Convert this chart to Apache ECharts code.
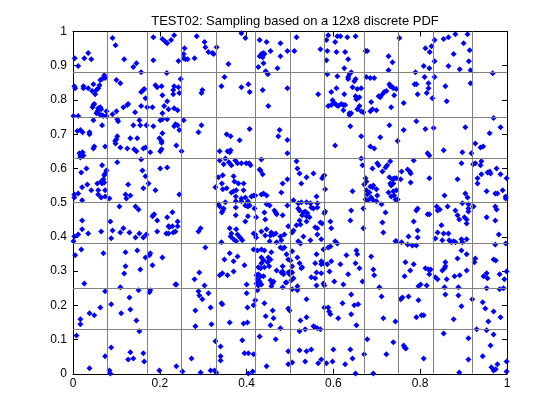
<!DOCTYPE html>
<html>
<head>
<meta charset="utf-8">
<script src="https://cdn.jsdelivr.net/npm/echarts@6/dist/echarts.min.js"></script>
<style>
html,body{margin:0;padding:0;background:#fff;}
#chart{width:560px;height:420px;}
</style>
</head>
<body>
<div id="chart"></div>
<script>
// Title and tick labels
var titleText = 'TEST02: Sampling based on a 12x8 discrete PDF';
var xTicks = [0, 0.2, 0.4, 0.6, 0.8, 1];
var yTicks = [0, 0.1, 0.2, 0.3, 0.4, 0.5, 0.6, 0.7, 0.8, 0.9, 1];
// PDF cell boundaries (12 x 8 cells)
var cellEdgesX = [1/12, 2/12, 3/12, 4/12, 5/12, 6/12, 7/12, 8/12, 9/12, 10/12, 11/12];
var cellEdgesY = [1/8, 2/8, 3/8, 4/8, 5/8, 6/8, 7/8];

// Sample points [x, y], grouped by region of the plot
var samplesTopLeft = [[0.091,0.981],[0.098,0.960],[0.185,0.983],[0.206,0.978],[0.213,0.970],[0.217,0.966],[0.226,0.975],[0.233,0.989],[0.004,0.922],[0.026,0.922],[0.035,0.937],[0.042,0.919],[0.012,0.899],[0.118,0.919],[0.139,0.896],[0.146,0.907],[0.157,0.881],[0.185,0.916],[0.216,0.879],[0.072,0.872],[0.067,0.861],[0.074,0.864],[0.063,0.858],[0.100,0.858],[0.109,0.849],[0.047,0.846],[0.061,0.843],[0.058,0.834],[0.054,0.829],[0.044,0.826],[0.051,0.817],[0.035,0.834],[0.024,0.840],[0.024,0.834],[0.003,0.840],[0.005,0.834],[0.157,0.823],[0.162,0.829],[0.164,0.832],[0.167,0.805],[0.157,0.782],[0.190,0.843],[0.194,0.837],[0.204,0.840],[0.206,0.814],[0.217,0.796],[0.210,0.782],[0.233,0.840],[0.231,0.829],[0.231,0.817],[0.220,0.773],[0.233,0.776],[0.047,0.785],[0.049,0.788],[0.045,0.779],[0.058,0.776],[0.063,0.779],[0.065,0.773],[0.056,0.767],[0.054,0.761],[0.061,0.758],[0.067,0.755],[0.070,0.753],[0.077,0.767],[0.077,0.753],[0.091,0.758],[0.100,0.767],[0.116,0.779],[0.125,0.785],[0.127,0.788],[0.143,0.764],[0.171,0.779],[0.183,0.779],[0.001,0.753],[0.012,0.753],[0.047,0.741],[0.067,0.726],[0.102,0.744],[0.104,0.738],[0.153,0.741],[0.155,0.726],[0.139,0.726],[0.169,0.726],[0.185,0.723],[0.206,0.761],[0.206,0.744],[0.217,0.744],[0.201,0.741],[0.236,0.729],[0.233,0.723],[0.010,0.709],[0.017,0.712],[0.022,0.706],[0.038,0.706],[0.038,0.700],[0.206,0.703],[0.102,0.694],[0.100,0.685],[0.097,0.680],[0.132,0.688],[0.148,0.688],[0.199,0.688],[0.204,0.680]];

var samplesTopMidLeft = [[0.243,0.914],[0.285,0.986],[0.303,0.969],[0.305,0.954],[0.312,0.940],[0.321,0.937],[0.324,0.934],[0.331,0.954],[0.257,0.951],[0.255,0.934],[0.255,0.922],[0.259,0.919],[0.264,0.919],[0.280,0.922],[0.388,0.995],[0.397,0.981],[0.358,0.905],[0.430,0.975],[0.446,0.969],[0.478,0.966],[0.455,0.943],[0.430,0.928],[0.434,0.934],[0.439,0.937],[0.441,0.934],[0.437,0.925],[0.478,0.928],[0.439,0.907],[0.427,0.896],[0.444,0.884],[0.449,0.875],[0.471,0.893],[0.349,0.867],[0.342,0.840],[0.388,0.837],[0.404,0.846],[0.407,0.823],[0.248,0.861],[0.243,0.837],[0.245,0.820],[0.298,0.829],[0.296,0.820],[0.437,0.829],[0.450,0.782],[0.241,0.770],[0.255,0.741],[0.241,0.726],[0.245,0.712],[0.296,0.726],[0.289,0.706],[0.354,0.700],[0.363,0.694],[0.384,0.682],[0.407,0.715],[0.476,0.712],[0.473,0.694]];

var samplesTopMidRight = [[0.515,0.983],[0.494,0.943],[0.510,0.943],[0.570,0.948],[0.588,0.989],[0.609,0.986],[0.616,0.986],[0.632,0.983],[0.651,0.986],[0.584,0.975],[0.604,0.969],[0.586,0.943],[0.607,0.940],[0.627,0.940],[0.584,0.916],[0.634,0.919],[0.625,0.893],[0.641,0.881],[0.637,0.875],[0.634,0.867],[0.634,0.861],[0.651,0.861],[0.648,0.855],[0.609,0.869],[0.586,0.875],[0.674,0.943],[0.678,0.943],[0.727,0.928],[0.736,0.910],[0.727,0.887],[0.676,0.867],[0.685,0.864],[0.694,0.864],[0.494,0.834],[0.565,0.817],[0.595,0.823],[0.607,0.834],[0.625,0.817],[0.644,0.837],[0.655,0.832],[0.664,0.834],[0.651,0.811],[0.655,0.805],[0.660,0.808],[0.653,0.802],[0.598,0.799],[0.602,0.791],[0.607,0.785],[0.611,0.782],[0.588,0.782],[0.595,0.785],[0.618,0.788],[0.623,0.785],[0.627,0.785],[0.623,0.770],[0.637,0.761],[0.637,0.756],[0.641,0.761],[0.655,0.773],[0.660,0.782],[0.664,0.767],[0.669,0.764],[0.687,0.794],[0.685,0.767],[0.690,0.773],[0.699,0.770],[0.704,0.811],[0.708,0.808],[0.713,0.817],[0.717,0.823],[0.722,0.826],[0.729,0.846],[0.731,0.840],[0.736,0.837],[0.738,0.834],[0.740,0.814],[0.733,0.779],[0.639,0.723],[0.664,0.694],[0.708,0.691],[0.729,0.726],[0.494,0.683]];

var samplesTopRight = [[0.752,0.981],[0.833,0.975],[0.854,0.978],[0.865,0.983],[0.881,0.992],[0.909,0.992],[0.812,0.951],[0.826,0.957],[0.822,0.940],[0.900,0.966],[0.914,0.945],[0.877,0.934],[0.833,0.913],[0.912,0.913],[0.808,0.899],[0.821,0.893],[0.865,0.899],[0.891,0.890],[0.916,0.887],[0.789,0.881],[0.967,0.878],[0.810,0.867],[0.833,0.867],[0.787,0.846],[0.791,0.846],[0.819,0.849],[0.819,0.834],[0.858,0.840],[0.916,0.849],[0.745,0.832],[0.794,0.817],[0.815,0.820],[0.828,0.805],[0.861,0.796],[0.762,0.791],[0.969,0.747],[0.791,0.738],[0.985,0.720],[0.762,0.712],[0.812,0.715],[0.831,0.718],[0.904,0.720],[0.960,0.703],[0.748,0.680]];

var samplesMidLeft = [[0.049,0.664],[0.047,0.658],[0.074,0.664],[0.098,0.673],[0.109,0.661],[0.125,0.658],[0.141,0.656],[0.146,0.650],[0.162,0.658],[0.167,0.661],[0.178,0.647],[0.201,0.650],[0.204,0.656],[0.204,0.675],[0.015,0.644],[0.022,0.647],[0.017,0.638],[0.024,0.638],[0.017,0.632],[0.157,0.626],[0.102,0.618],[0.067,0.609],[0.031,0.600],[0.019,0.588],[0.077,0.594],[0.074,0.585],[0.072,0.580],[0.070,0.568],[0.065,0.562],[0.072,0.559],[0.067,0.556],[0.056,0.556],[0.033,0.553],[0.021,0.545],[0.042,0.536],[0.058,0.536],[0.074,0.536],[0.058,0.524],[0.065,0.515],[0.074,0.518],[0.084,0.512],[0.003,0.524],[0.012,0.527],[0.003,0.515],[0.021,0.507],[0.160,0.594],[0.167,0.577],[0.201,0.600],[0.217,0.603],[0.127,0.553],[0.174,0.556],[0.162,0.542],[0.190,0.536],[0.121,0.524],[0.132,0.521],[0.123,0.512],[0.107,0.489],[0.144,0.489],[0.151,0.480],[0.185,0.463],[0.187,0.466],[0.183,0.460],[0.194,0.448],[0.229,0.472],[0.217,0.457],[0.021,0.448],[0.086,0.445],[0.220,0.431],[0.222,0.428],[0.229,0.431],[0.021,0.422],[0.035,0.410],[0.065,0.416],[0.091,0.419],[0.109,0.413],[0.116,0.425],[0.130,0.413],[0.153,0.410],[0.169,0.407],[0.162,0.398],[0.144,0.398],[0.194,0.416],[0.215,0.410],[0.220,0.410],[0.231,0.413],[0.236,0.416],[0.088,0.396],[0.012,0.407],[0.003,0.401],[0.001,0.387],[0.019,0.363],[0.070,0.352],[0.121,0.355],[0.148,0.360],[0.178,0.352],[0.176,0.346],[0.206,0.340],[0.005,0.346],[0.167,0.340]];

var samplesMidMidLeft = [[0.238,0.667],[0.250,0.650],[0.338,0.650],[0.356,0.650],[0.361,0.647],[0.363,0.653],[0.351,0.629],[0.338,0.623],[0.347,0.612],[0.359,0.618],[0.365,0.609],[0.374,0.623],[0.379,0.615],[0.388,0.615],[0.399,0.615],[0.406,0.615],[0.409,0.609],[0.434,0.626],[0.430,0.597],[0.432,0.594],[0.437,0.583],[0.335,0.574],[0.345,0.580],[0.370,0.577],[0.372,0.562],[0.381,0.556],[0.393,0.556],[0.343,0.556],[0.328,0.545],[0.345,0.539],[0.354,0.542],[0.365,0.530],[0.370,0.533],[0.376,0.536],[0.393,0.536],[0.375,0.518],[0.388,0.512],[0.397,0.515],[0.411,0.518],[0.416,0.521],[0.420,0.521],[0.434,0.524],[0.439,0.527],[0.446,0.521],[0.483,0.556],[0.480,0.530],[0.245,0.524],[0.375,0.504],[0.388,0.504],[0.403,0.504],[0.351,0.501],[0.335,0.495],[0.338,0.489],[0.347,0.483],[0.345,0.477],[0.343,0.471],[0.375,0.486],[0.397,0.492],[0.403,0.489],[0.407,0.492],[0.446,0.495],[0.453,0.492],[0.418,0.483],[0.441,0.471],[0.464,0.477],[0.467,0.471],[0.469,0.466],[0.483,0.463],[0.375,0.463],[0.403,0.460],[0.397,0.445],[0.422,0.457],[0.443,0.451],[0.241,0.445],[0.241,0.431],[0.294,0.425],[0.289,0.416],[0.361,0.425],[0.365,0.410],[0.376,0.422],[0.379,0.407],[0.363,0.401],[0.370,0.393],[0.376,0.387],[0.385,0.398],[0.390,0.390],[0.342,0.384],[0.416,0.410],[0.420,0.407],[0.422,0.398],[0.434,0.416],[0.443,0.404],[0.446,0.422],[0.457,0.413],[0.462,0.407],[0.455,0.404],[0.467,0.410],[0.487,0.407],[0.478,0.401],[0.480,0.390],[0.453,0.387],[0.469,0.384],[0.305,0.369],[0.416,0.363],[0.425,0.360],[0.434,0.363],[0.441,0.360],[0.457,0.355],[0.478,0.369],[0.483,0.366],[0.487,0.369],[0.361,0.352],[0.379,0.343],[0.434,0.340],[0.492,0.349],[0.450,0.340]];

var samplesMidMidRight = [[0.494,0.644],[0.604,0.667],[0.685,0.664],[0.694,0.658],[0.515,0.621],[0.517,0.600],[0.522,0.585],[0.538,0.574],[0.554,0.585],[0.526,0.556],[0.574,0.571],[0.577,0.577],[0.579,0.580],[0.494,0.568],[0.581,0.539],[0.561,0.518],[0.664,0.629],[0.667,0.609],[0.690,0.600],[0.701,0.615],[0.704,0.609],[0.713,0.591],[0.720,0.603],[0.724,0.609],[0.731,0.621],[0.674,0.571],[0.676,0.562],[0.671,0.553],[0.685,0.547],[0.690,0.545],[0.692,0.550],[0.699,0.539],[0.676,0.536],[0.678,0.524],[0.683,0.530],[0.674,0.509],[0.680,0.507],[0.687,0.515],[0.692,0.507],[0.699,0.504],[0.701,0.521],[0.644,0.533],[0.729,0.574],[0.731,0.556],[0.733,0.550],[0.738,0.556],[0.740,0.571],[0.736,0.568],[0.727,0.530],[0.738,0.533],[0.740,0.521],[0.733,0.518],[0.743,0.509],[0.508,0.507],[0.494,0.492],[0.519,0.498],[0.526,0.501],[0.538,0.501],[0.547,0.498],[0.563,0.498],[0.549,0.486],[0.554,0.483],[0.563,0.486],[0.519,0.483],[0.522,0.477],[0.531,0.471],[0.535,0.474],[0.540,0.469],[0.538,0.460],[0.545,0.457],[0.528,0.463],[0.522,0.448],[0.538,0.445],[0.524,0.436],[0.515,0.434],[0.508,0.419],[0.505,0.413],[0.496,0.431],[0.531,0.401],[0.519,0.387],[0.524,0.381],[0.547,0.390],[0.563,0.407],[0.572,0.393],[0.558,0.428],[0.563,0.425],[0.570,0.442],[0.574,0.439],[0.581,0.474],[0.579,0.469],[0.593,0.445],[0.595,0.425],[0.641,0.477],[0.639,0.448],[0.669,0.483],[0.669,0.425],[0.720,0.471],[0.713,0.442],[0.715,0.413],[0.711,0.495],[0.743,0.387],[0.604,0.387],[0.609,0.381],[0.577,0.363],[0.588,0.369],[0.593,0.372],[0.505,0.358],[0.517,0.340],[0.561,0.349],[0.630,0.346],[0.653,0.360],[0.655,0.349],[0.687,0.343]];

var samplesMidRight = [[0.927,0.673],[0.939,0.661],[0.945,0.664],[0.854,0.653],[0.817,0.644],[0.821,0.638],[0.897,0.647],[0.918,0.644],[0.785,0.623],[0.895,0.615],[0.922,0.612],[0.927,0.615],[0.941,0.621],[0.939,0.609],[0.976,0.600],[0.757,0.591],[0.771,0.597],[0.776,0.591],[0.778,0.585],[0.745,0.571],[0.755,0.568],[0.821,0.571],[0.778,0.559],[0.886,0.568],[0.932,0.571],[0.932,0.556],[0.941,0.583],[0.955,0.588],[0.960,0.591],[0.962,0.585],[0.985,0.583],[0.999,0.571],[0.745,0.536],[0.748,0.509],[0.856,0.521],[0.904,0.527],[0.909,0.515],[0.953,0.533],[0.973,0.527],[0.978,0.527],[0.990,0.536],[0.997,0.518],[0.997,0.512],[0.791,0.477],[0.794,0.483],[0.817,0.466],[0.821,0.466],[0.838,0.489],[0.840,0.477],[0.845,0.480],[0.863,0.489],[0.897,0.498],[0.911,0.495],[0.911,0.483],[0.911,0.474],[0.923,0.489],[0.881,0.477],[0.886,0.463],[0.890,0.451],[0.902,0.457],[0.907,0.451],[0.907,0.439],[0.973,0.489],[0.976,0.480],[0.953,0.457],[0.973,0.448],[0.785,0.445],[0.849,0.434],[0.794,0.419],[0.840,0.413],[0.854,0.410],[0.865,0.410],[0.773,0.401],[0.794,0.398],[0.835,0.395],[0.851,0.390],[0.867,0.390],[0.877,0.387],[0.881,0.384],[0.872,0.384],[0.895,0.393],[0.907,0.393],[0.897,0.384],[0.981,0.407],[0.745,0.387],[0.757,0.384],[0.771,0.378],[0.782,0.375],[0.791,0.375],[0.895,0.360],[0.907,0.349],[0.973,0.378],[0.997,0.381]];

var samplesBottomLeft = [[0.121,0.314],[0.118,0.293],[0.155,0.305],[0.183,0.317],[0.026,0.264],[0.236,0.261],[0.109,0.253],[0.074,0.241],[0.151,0.244],[0.178,0.244],[0.176,0.238],[0.130,0.223],[0.088,0.203],[0.063,0.194],[0.038,0.177],[0.049,0.171],[0.111,0.177],[0.132,0.188],[0.146,0.156],[0.017,0.159],[0.017,0.145],[0.153,0.124],[0.008,0.112],[0.088,0.077],[0.132,0.063],[0.074,0.051],[0.127,0.042],[0.139,0.045],[0.162,0.060],[0.164,0.036],[0.038,0.016],[0.084,0.010],[0.086,0.001],[0.199,0.010]];

var samplesBottomMidLeft = [[0.349,0.334],[0.370,0.329],[0.395,0.317],[0.427,0.311],[0.434,0.323],[0.439,0.332],[0.448,0.326],[0.455,0.334],[0.432,0.308],[0.441,0.311],[0.452,0.314],[0.483,0.314],[0.469,0.302],[0.480,0.296],[0.485,0.291],[0.483,0.299],[0.291,0.296],[0.280,0.276],[0.303,0.258],[0.338,0.288],[0.344,0.294],[0.356,0.288],[0.370,0.299],[0.423,0.288],[0.427,0.291],[0.432,0.285],[0.439,0.285],[0.425,0.276],[0.430,0.270],[0.423,0.264],[0.427,0.258],[0.434,0.261],[0.425,0.244],[0.455,0.273],[0.462,0.270],[0.459,0.264],[0.457,0.256],[0.490,0.267],[0.483,0.253],[0.400,0.261],[0.238,0.261],[0.289,0.241],[0.291,0.229],[0.298,0.218],[0.312,0.235],[0.400,0.235],[0.342,0.206],[0.344,0.203],[0.402,0.194],[0.420,0.215],[0.416,0.200],[0.441,0.206],[0.460,0.185],[0.282,0.185],[0.317,0.194],[0.444,0.168],[0.462,0.162],[0.361,0.150],[0.393,0.147],[0.402,0.150],[0.455,0.142],[0.478,0.133],[0.282,0.139],[0.319,0.145],[0.430,0.109],[0.467,0.101],[0.390,0.098],[0.328,0.095],[0.340,0.080],[0.273,0.045],[0.340,0.051],[0.340,0.039],[0.395,0.060],[0.404,0.060],[0.416,0.057],[0.446,0.022],[0.238,0.022],[0.252,0.007],[0.294,0.004],[0.317,0.010],[0.326,0.010],[0.330,0.004],[0.404,0.001],[0.414,0.007]];

var samplesBottomMidRight = [[0.496,0.334],[0.501,0.331],[0.522,0.323],[0.505,0.314],[0.496,0.296],[0.499,0.291],[0.505,0.296],[0.501,0.299],[0.508,0.279],[0.503,0.273],[0.492,0.267],[0.526,0.308],[0.528,0.311],[0.558,0.323],[0.572,0.329],[0.572,0.320],[0.577,0.323],[0.586,0.320],[0.595,0.329],[0.616,0.320],[0.651,0.323],[0.660,0.308],[0.692,0.305],[0.694,0.288],[0.561,0.296],[0.572,0.294],[0.591,0.299],[0.634,0.291],[0.549,0.282],[0.558,0.279],[0.602,0.270],[0.623,0.261],[0.667,0.270],[0.577,0.264],[0.579,0.258],[0.561,0.258],[0.517,0.256],[0.505,0.247],[0.517,0.244],[0.706,0.253],[0.641,0.232],[0.711,0.226],[0.538,0.218],[0.621,0.206],[0.648,0.200],[0.657,0.203],[0.579,0.194],[0.588,0.194],[0.590,0.182],[0.593,0.174],[0.496,0.191],[0.499,0.185],[0.641,0.174],[0.611,0.162],[0.538,0.165],[0.524,0.156],[0.715,0.162],[0.743,0.153],[0.653,0.142],[0.554,0.139],[0.558,0.136],[0.563,0.133],[0.570,0.130],[0.535,0.130],[0.522,0.124],[0.678,0.101],[0.738,0.092],[0.496,0.066],[0.522,0.069],[0.538,0.066],[0.549,0.071],[0.600,0.071],[0.639,0.071],[0.671,0.057],[0.722,0.057],[0.644,0.045],[0.572,0.042],[0.505,0.033],[0.496,0.028],[0.535,0.036],[0.565,0.031],[0.584,0.031],[0.598,0.036],[0.627,0.028],[0.651,0.001],[0.692,0.001]];

var samplesBottomRight = [[0.766,0.326],[0.785,0.320],[0.764,0.285],[0.777,0.302],[0.812,0.308],[0.819,0.305],[0.824,0.305],[0.821,0.291],[0.858,0.326],[0.858,0.314],[0.851,0.302],[0.856,0.308],[0.886,0.337],[0.927,0.337],[0.925,0.326],[0.969,0.334],[0.974,0.331],[0.907,0.302],[0.879,0.285],[0.891,0.288],[0.835,0.282],[0.840,0.276],[0.861,0.276],[0.953,0.294],[0.946,0.285],[0.955,0.279],[0.983,0.291],[0.994,0.276],[0.999,0.299],[0.796,0.256],[0.801,0.261],[0.815,0.258],[0.856,0.253],[0.888,0.253],[0.953,0.250],[0.983,0.247],[0.992,0.250],[0.755,0.218],[0.759,0.223],[0.773,0.226],[0.796,0.215],[0.858,0.232],[0.888,0.229],[0.920,0.218],[0.895,0.197],[0.944,0.209],[0.950,0.191],[0.969,0.182],[0.791,0.165],[0.803,0.171],[0.808,0.171],[0.877,0.159],[0.985,0.165],[0.957,0.153],[0.930,0.130],[0.953,0.127],[0.854,0.118],[0.911,0.104],[0.969,0.115],[0.762,0.083],[0.764,0.077],[0.767,0.074],[0.962,0.083],[0.944,0.051],[0.808,0.045],[0.911,0.042],[0.978,0.028],[0.999,0.036],[0.964,0.019],[0.969,0.010],[0.974,0.013],[0.890,0.004],[0.999,0.007]];

var allSamples = [].concat(samplesTopLeft, samplesTopMidLeft, samplesTopMidRight, samplesTopRight,
  samplesMidLeft, samplesMidMidLeft, samplesMidMidRight, samplesMidRight,
  samplesBottomLeft, samplesBottomMidLeft, samplesBottomMidRight, samplesBottomRight);

var font = 'Liberation Sans, Arial, Helvetica, sans-serif';
var chart = echarts.init(document.getElementById('chart'), null, {renderer: 'canvas'});

function axisCommon(extra) {
  var base = {
    min: 0, max: 1,
    axisLine: {show: true, onZero: false, lineStyle: {color: '#000', width: 1}},
    axisTick: {show: true, inside: true, length: 5, lineStyle: {color: '#000', width: 1}},
    splitLine: {show: false},
    axisLabel: {show: false}
  };
  for (var k in extra) base[k] = extra[k];
  return base;
}

var gridMarks = cellEdgesX.map(function (v) { return {xAxis: v}; })
  .concat(cellEdgesY.map(function (v) { return {yAxis: v}; }));

chart.setOption({
  animation: false,
  backgroundColor: '#ffffff',
  title: {
    text: titleText,
    left: 290, top: 10, textAlign: 'center',
    textStyle: {fontFamily: font, fontSize: 13, fontWeight: 'normal', color: '#000'}
  },
  grid: {left: 73, right: 53, top: 31.5, bottom: 46.2, containLabel: false},
  xAxis: [
    axisCommon({type: 'value', position: 'bottom', interval: 0.2,
      axisLabel: {show: true, margin: 4, color: '#000', fontFamily: font, fontSize: 12,
        showMinLabel: true, showMaxLabel: true,
        formatter: function (v) { return String(Math.round(v * 10) / 10); }}}),
    axisCommon({type: 'value', position: 'top', interval: 0.2})
  ],
  yAxis: [
    axisCommon({type: 'value', position: 'left', interval: 0.1,
      axisLabel: {show: true, margin: 6, color: '#000', fontFamily: font, fontSize: 12,
        showMinLabel: true, showMaxLabel: true,
        formatter: function (v) { return String(Math.round(v * 10) / 10); }}}),
    axisCommon({type: 'value', position: 'right', interval: 0.1})
  ],
  series: [
    {
      type: 'scatter', data: [], z: 1, silent: true,
      markLine: {
        silent: true, symbol: ['none', 'none'], animation: false,
        label: {show: false},
        lineStyle: {color: '#808080', type: 'solid', width: 1},
        emphasis: {disabled: true},
        data: gridMarks
      }
    },
    {
      type: 'scatter', data: allSamples, z: 3, silent: true,
      symbol: 'diamond', symbolSize: 6,
      itemStyle: {color: '#0000ff', opacity: 1}
    }
  ]
});
</script>
</body>
</html>
